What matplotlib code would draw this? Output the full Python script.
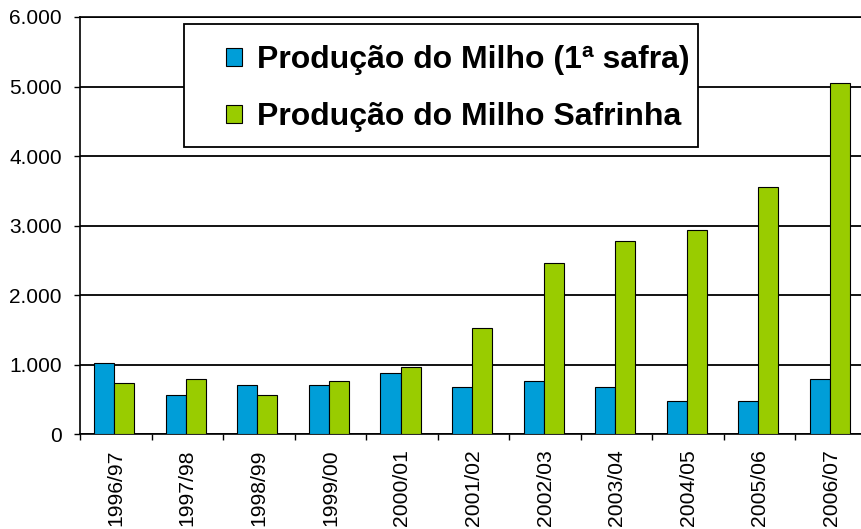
import matplotlib.pyplot as plt
import matplotlib.ticker as mticker
from matplotlib.patches import Rectangle
import numpy as np

plt.rcParams['font.family'] = ['Liberation Sans', 'DejaVu Sans']

safras = ["1996/97", "1997/98", "1998/99", "1999/00", "2000/01", "2001/02",
          "2002/03", "2003/04", "2004/05", "2005/06", "2006/07"]
milho_1a_safra = [1030, 565, 710, 710, 885, 680, 765, 680, 480, 480, 795]
milho_safrinha = [740, 795, 565, 765, 970, 1530, 2470, 2785, 2935, 3550, 5055]

label_1a = "Produção do Milho (1ª safra)"
label_safrinha = "Produção do Milho Safrinha"

W, H = 862, 529
fig = plt.figure(figsize=(W / 100, H / 100), dpi=100)
ax = fig.add_axes([80 / W, 1 - 434.3 / H, 787 / W, (434.3 - 17) / H])

x = np.arange(len(safras))
w = 0.28
ax.bar(x - w / 2 - 0.02, milho_1a_safra, w, color="#009ED8", edgecolor="black",
       linewidth=0.8, label=label_1a, zorder=3)
ax.bar(x + w / 2 - 0.02, milho_safrinha, w, color="#99CC00", edgecolor="black",
       linewidth=0.8, label=label_safrinha, zorder=3)

ax.set_xlim(-0.5, len(safras) - 0.5)
ax.set_ylim(0, 6000)
ax.set_yticks(range(0, 6001, 1000))
ax.yaxis.set_major_formatter(mticker.FuncFormatter(
    lambda v, p: f"{int(v):,}".replace(",", ".")))
ax.yaxis.grid(True, color="black", linewidth=1.3, zorder=1)
ax.set_axisbelow(True)

ax.set_xticks(x)
ax.set_xticklabels(safras, rotation=90)
ax.set_xticks(np.arange(-0.5, len(safras)), minor=True)
ax.tick_params(axis="x", which="major", length=0, pad=11, labelsize=15.2)
ax.tick_params(axis="x", which="minor", length=4, width=1, direction="out")
ax.tick_params(axis="y", length=4, width=1, labelsize=15, pad=9)

for s in ["left", "bottom", "top"]:
    ax.spines[s].set_color("black")
    ax.spines[s].set_linewidth(1.2)
ax.spines["right"].set_visible(False)

# legend box drawn on the figure so it sits above the grid lines
fig.patches.append(Rectangle((184 / W, 1 - 146.7 / H), (698 - 184) / W,
                             (146.7 - 24) / H, transform=fig.transFigure,
                             facecolor="white", edgecolor="black",
                             linewidth=1.3, zorder=4))
handles, labels = ax.get_legend_handles_labels()
leg = fig.legend(handles, labels, loc="upper left",
                 bbox_to_anchor=(226 / W, 1 - 45 / H),
                 bbox_transform=fig.transFigure, frameon=False,
                 borderpad=0, borderaxespad=0, handlelength=0.5,
                 handleheight=0.5, handletextpad=0.47, labelspacing=0.85,
                 prop={"weight": "bold", "size": 23})
leg.set_zorder(5)

fig.savefig("out.png", dpi=100)
